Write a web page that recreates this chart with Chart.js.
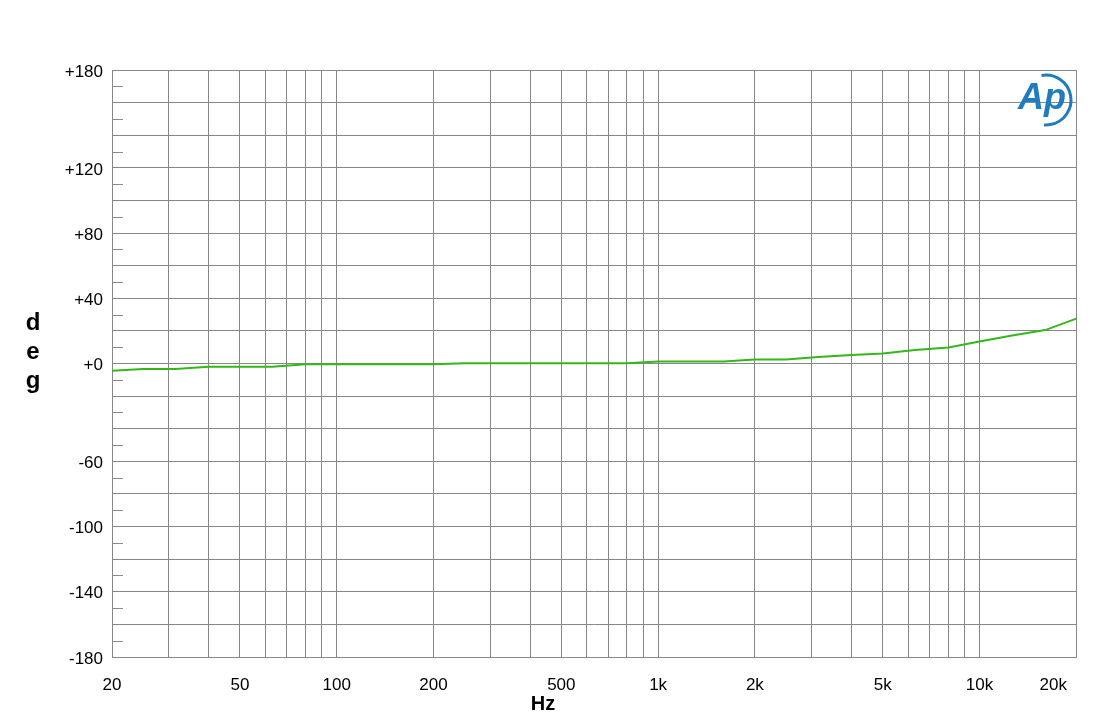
<!DOCTYPE html>
<html>
<head>
<meta charset="utf-8">
<style>
  html, body { margin: 0; padding: 0; background: #fff; }
  #wrap { width: 1108px; height: 720px; }
</style>
<script src="https://cdn.jsdelivr.net/npm/chart.js@4/dist/chart.umd.min.js"></script>
</head>
<body>
<div id="wrap"><canvas id="phaseChart" width="1108" height="720"></canvas></div>
<script>
// phase response, 1/3 octave points
const freqs = [20, 25, 31.5, 40, 50, 63, 80, 100, 125, 160, 200, 250, 315, 400, 500, 630, 800,
    1000, 1250, 1600, 2000, 2500, 3150, 4000, 5000, 6300, 8000, 10000, 12500, 16000, 20000];
const phase = [-4.5, -3.3, -3.3, -2.0, -2.0, -2.0, -0.5, -0.5, -0.5, -0.5, -0.5, 0.2, 0.2, 0.2, 0.2, 0.2, 0.2,
    1.3, 1.3, 1.3, 2.5, 2.5, 4.0, 5.2, 6.2, 8.3, 9.8, 13.5, 17.0, 20.5, 27.5];

const xGrid = [20, 30, 40, 50, 60, 70, 80, 90, 100, 200, 300, 400, 500, 600, 700, 800, 900,
    1000, 2000, 3000, 4000, 5000, 6000, 7000, 8000, 9000, 10000, 20000];
const xLabels = { 20: '20', 50: '50', 100: '100', 200: '200', 500: '500', 1000: '1k', 2000: '2k',
    5000: '5k', 10000: '10k', 20000: '20k' };

const yGrid = [-180, -160, -140, -120, -100, -80, -60, -40, -20, 0, 20, 40, 60, 80, 100, 120, 140, 160, 180];
const yLabeled = [180, 120, 80, 40, 0, -60, -100, -140, -180];
const yMinor = [170, 150, 130, 110, 90, 70, 50, 30, 10, -10, -30, -50, -70, -90, -110, -130, -150, -170];

const FONT = "'Liberation Sans', Arial, sans-serif";
const GRID = '#888';

function shift(item, dx, dy) {
    const t = (item.options && item.options.translation) || item.translation;
    if (t) { t[0] += dx; t[1] += dy; }
}

const extras = {
    id: 'extras',
    beforeDraw(c) {
        // last x label sits inside the right edge, like the original
        c.scales.x.getLabelItems().forEach(it => {
            if (it.label === '20k') shift(it, -23, 0);
        });
        c.scales.y.getLabelItems().forEach(it => shift(it, 0, 2));
    },
    afterDraw(c) {
        const ctx = c.ctx;
        const a = c.chartArea;
        const y = c.scales.y;
        ctx.save();
        // short minor ticks inside the left edge
        ctx.strokeStyle = '#8a8a8a';
        ctx.lineWidth = 1;
        yMinor.forEach(v => {
            const py = Math.round(y.getPixelForValue(v)) + 0.5;
            ctx.beginPath();
            ctx.moveTo(a.left, py);
            ctx.lineTo(a.left + 11, py);
            ctx.stroke();
        });
        // stacked axis title
        ctx.fillStyle = '#000';
        ctx.font = 'bold 24px ' + FONT;
        ctx.textAlign = 'center';
        ctx.textBaseline = 'middle';
        ['d', 'e', 'g'].forEach((ch, i) => ctx.fillText(ch, 33, 323 + i * 29));
        ctx.font = 'bold 20px ' + FONT;
        ctx.fillText('Hz', 543, 704);
        // Ap logo
        ctx.fillStyle = '#1f7dbd';
        ctx.strokeStyle = '#1f7dbd';
        ctx.font = 'italic bold 36px ' + FONT;
        ctx.fillText('Ap', 1042, 99);
        ctx.lineWidth = 3;
        ctx.beginPath();
        ctx.arc(1046, 100, 25, -1.75, 1.65);
        ctx.stroke();
        ctx.restore();
    }
};

const chart = new Chart(document.getElementById('phaseChart'), {
    type: 'line',
    data: {
        datasets: [{
            data: freqs.map((f, i) => ({ x: f, y: phase[i] })),
            borderColor: '#33b81a',
            borderWidth: 2,
            pointRadius: 0,
            tension: 0,
            fill: false
        }]
    },
    options: {
        responsive: false,
        animation: false,
        devicePixelRatio: 1,
        layout: { padding: { top: 70, right: 29, left: 0, bottom: 0 } },
        plugins: { legend: { display: false }, tooltip: { enabled: false } },
        scales: {
            x: {
                type: 'logarithmic',
                min: 20,
                max: 20000,
                afterBuildTicks: s => { s.ticks = xGrid.map(v => ({ value: v })); },
                afterFit: s => { s.height = 63; },
                grid: { color: GRID, drawTicks: false },
                border: { color: GRID },
                ticks: {
                    autoSkip: false,
                    maxRotation: 0,
                    padding: 18,
                    color: '#000',
                    font: { family: FONT, size: 17 },
                    callback: v => xLabels[v] || ''
                }
            },
            y: {
                min: -180,
                max: 180,
                afterBuildTicks: s => { s.ticks = yGrid.map(v => ({ value: v })); },
                afterFit: s => { s.width = 112; },
                grid: { color: GRID, drawTicks: false },
                border: { color: GRID },
                ticks: {
                    autoSkip: false,
                    padding: 9,
                    color: '#000',
                    font: { family: FONT, size: 17 },
                    callback: v => yLabeled.includes(v) ? (v >= 0 ? '+' + v : String(v)) : ''
                }
            }
        }
    },
    plugins: [extras]
});
</script>
</body>
</html>
